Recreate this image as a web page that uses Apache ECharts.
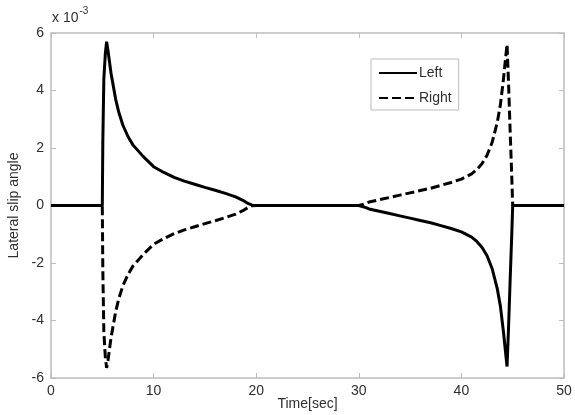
<!DOCTYPE html>
<html>
<head>
<meta charset="utf-8">
<script src="https://cdn.jsdelivr.net/npm/echarts@6/dist/echarts.min.js"></script>
<style>
html, body { margin: 0; padding: 0; background: #fff; }
#main { width: 575px; height: 415px; }
</style>
</head>
<body>
<div id="main"></div>
<script>
// time samples [sec]
var time = [0, 5, 5.05, 5.15, 5.3, 5.42, 5.55, 5.7, 5.85, 6, 6.3, 6.6, 7, 7.5, 8, 8.5, 9, 10, 11, 12, 13, 14, 15, 16, 17, 18, 18.7, 19.2, 19.6, 20, 25,
	30, 30.5, 31, 32, 33, 34, 35, 36, 37, 38, 39, 40, 41, 41.5, 42, 42.5, 43, 43.5, 43.8, 44.1, 44.3, 44.45, 44.6, 44.75, 44.9, 45, 45.05, 50];
// lateral slip angle, x 10^-3
var leftVals = [0, 0, 2.2, 4.4, 5.3, 5.7, 5.4, 5.0, 4.6, 4.3, 3.7, 3.25, 2.8, 2.4, 2.1, 1.9, 1.7, 1.35, 1.15, 0.98, 0.85, 0.74, 0.63, 0.53, 0.42, 0.3, 0.18, 0.07, 0.01, 0, 0,
	0, -0.05, -0.12, -0.2, -0.28, -0.36, -0.44, -0.52, -0.6, -0.7, -0.8, -0.92, -1.1, -1.25, -1.45, -1.75, -2.2, -2.9, -3.5, -4.4, -5.1, -5.6, -4.2, -2.6, -1.1, 0, 0, 0];
var rightVals = [0, 0, -2.2, -4.4, -5.3, -5.65, -5.4, -5.0, -4.6, -4.3, -3.7, -3.25, -2.8, -2.4, -2.1, -1.9, -1.7, -1.35, -1.15, -0.98, -0.85, -0.74, -0.63, -0.53, -0.42, -0.3, -0.18, -0.07, -0.01, 0, 0,
	0, 0.05, 0.12, 0.2, 0.28, 0.36, 0.44, 0.52, 0.6, 0.7, 0.8, 0.92, 1.1, 1.25, 1.45, 1.75, 2.2, 2.9, 3.5, 4.4, 5.1, 5.6, 4.2, 2.6, 1.1, 0, 0, 0];
var seriesNames = ['Left', 'Right'];

var pairs = function (ys) {
	var res = [];
	for (var i = 0; i < time.length; i++) {
		res.push([time[i], ys[i]]);
	}
	return res;
};

var chart = echarts.init(document.getElementById('main'));
var font = 'Liberation Sans';
var boxColor = '#bdbdbd';
var textColor = '#2e2e2e';

var tickAxis = function (extra) {
	var a = {
		axisLine: { show: true, onZero: false, lineStyle: { color: boxColor, width: 1.5 } },
		axisTick: { show: true, inside: true, length: 5, lineStyle: { color: boxColor, width: 1 } },
		splitLine: { show: false },
		axisLabel: { show: false }
	};
	for (var k in extra) a[k] = extra[k];
	return a;
};

var option = {
	animation: false,
	backgroundColor: '#fff',
	grid: { left: 51, right: 11, top: 33, bottom: 37, outerBoundsMode: 'none', containLabel: false },
	legend: {
		data: seriesNames,
		orient: 'vertical',
		left: 371,
		top: 59,
		itemWidth: 38,
		itemHeight: 14,
		itemGap: 11,
		padding: [7, 7, 5, 7],
		borderColor: boxColor,
		borderWidth: 1,
		backgroundColor: '#fff',
		itemStyle: { opacity: 0 },
		textStyle: { fontFamily: font, fontSize: 14, color: textColor, padding: [0, 0, 0, -3] }
	},
	graphic: [{
		type: 'text',
		left: 52,
		top: 6,
		style: {
			text: '{a|x 10}{b|-3}',
			rich: {
				a: { fontFamily: font, fontSize: 14, fill: textColor, padding: [7, 0, 0, 0] },
				b: { fontFamily: font, fontSize: 10, fill: textColor, padding: [0, 0, 7, 1] }
			}
		}
	}],
	xAxis: [
		tickAxis({
			type: 'value', position: 'bottom', min: 0, max: 50, interval: 10,
			name: 'Time[sec]', nameLocation: 'middle', nameGap: 19, nameMoveOverlap: false,
			nameTextStyle: { fontFamily: font, fontSize: 14, color: textColor },
			axisLabel: { show: true, margin: 6, fontFamily: font, fontSize: 14, color: textColor }
		}),
		tickAxis({ type: 'value', position: 'top', min: 0, max: 50, interval: 10 })
	],
	yAxis: [
		tickAxis({
			type: 'value', position: 'left', min: -6, max: 6, interval: 2,
			name: 'Lateral slip angle', nameLocation: 'middle', nameGap: 30, nameMoveOverlap: false,
			nameTextStyle: { fontFamily: font, fontSize: 14, color: textColor },
			axisLabel: { show: true, margin: 7, fontFamily: font, fontSize: 14, color: textColor }
		}),
		tickAxis({ type: 'value', position: 'right', min: -6, max: 6, interval: 2 })
	],
	series: [{
		name: seriesNames[0],
		type: 'line',
		data: pairs(leftVals),
		showSymbol: false,
		symbol: 'none',
		itemStyle: { color: '#000' },
		lineStyle: { color: '#000', width: 3, type: 'solid' },
		z: 3
	}, {
		name: seriesNames[1],
		type: 'line',
		data: pairs(rightVals),
		showSymbol: false,
		symbol: 'none',
		itemStyle: { color: '#000' },
		lineStyle: { color: '#000', width: 3, type: [9, 4] },
		z: 2
	}]
};
chart.setOption(option);
</script>
</body>
</html>
